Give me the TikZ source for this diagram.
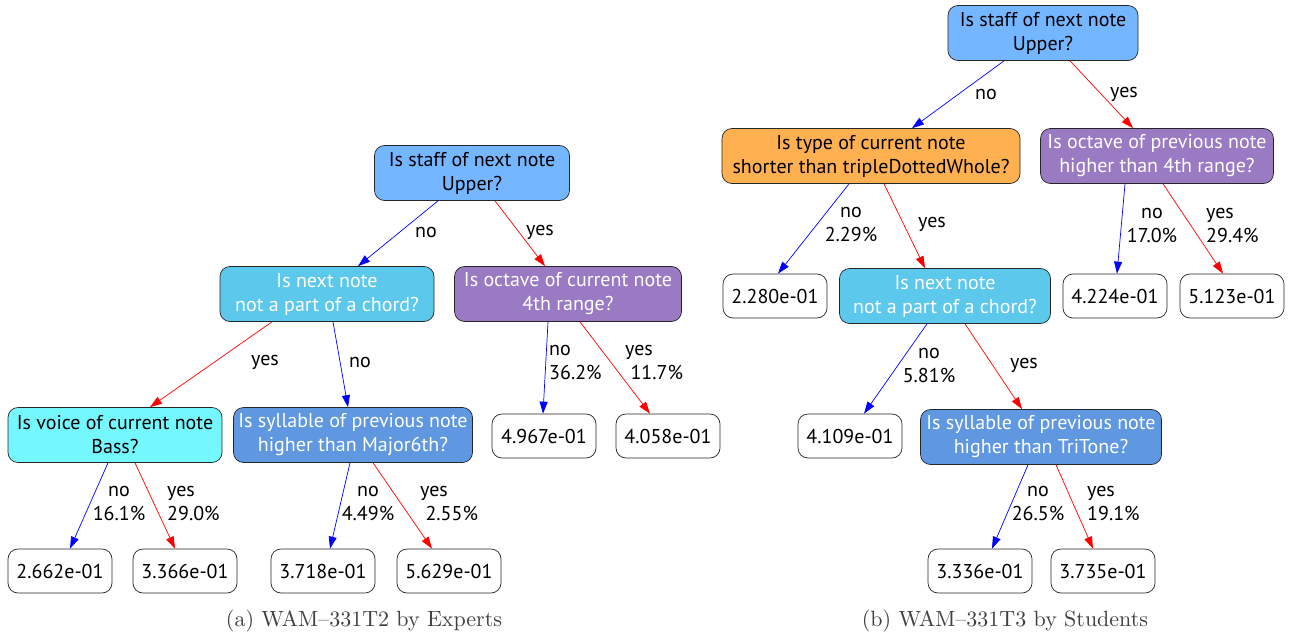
\documentclass[tikz,border=0pt]{standalone}
\usepackage{fontspec}
\newfontfamily\nodefont{PT Sans}
\newfontfamily\capfont[Extension=.otf, Ligatures=TeX]{lmroman10-regular}
\usetikzlibrary{arrows.meta}

\definecolor{staffblue}{HTML}{74B6FF}
\definecolor{chordcyan}{HTML}{5BC8EC}
\definecolor{octavepurple}{HTML}{9A7AC2}
\definecolor{voicecyan}{HTML}{74F8FD}
\definecolor{syllableblue}{HTML}{5F98E0}
\definecolor{typeorange}{HTML}{FFB050}

\begin{document}
\begin{tikzpicture}[
    x=1pt, y=-1pt,
    % Define question node style
    question/.style={
        draw=black!85, % Dark border
        rounded corners=10pt, % Rounded box
        minimum height=55pt, % Two text lines
        inner xsep=4pt,
        line width=0.7pt,
        align=center, % Center alignment
        font=\nodefont\fontsize{20}{24}\selectfont
      },
    % Define leaf node style
    leaf/.style={
        draw=black!85,
        fill=white,
        rounded corners=10pt,
        minimum width=104pt,
        minimum height=44pt,
        inner xsep=4pt,
        line width=0.7pt,
        font=\nodefont\fontsize{20}{24}\selectfont
      },
    % Define label style
    edgelabel/.style={
        inner sep=0pt,
        align=center,
        font=\nodefont\fontsize{20}{24}\selectfont
      },
    % Define arrow styles
    noedge/.style={draw=blue, line width=0.7pt, -{Triangle[length=12pt,width=8pt]}},
    yesedge/.style={draw=red, line width=0.7pt, -{Triangle[length=12pt,width=8pt]}}
  ]

  \fill[white] (0,0) rectangle (1292,637);
  \useasboundingbox (0,0) rectangle (1292,637);

  % (a) tree by experts
  \node[question, fill=staffblue, minimum width=195pt] (aStaff) at (472,173) {Is staff of next note\\Upper?};
  \node[question, fill=chordcyan, text=white, minimum width=214pt] (aChord) at (327,294) {Is next note\\not a part of a chord?};
  \node[question, fill=octavepurple, text=white, minimum width=227pt] (aOctave) at (568,294) {Is octave of current note\\4th range?};
  \node[question, fill=voicecyan, minimum width=214pt] (aVoice) at (115,435) {Is voice of current note\\Bass?};
  \node[question, fill=syllableblue, text=white, minimum width=239pt] (aSyllable) at (353,435) {Is syllable of previous note\\higher than Major6th?};

  \node[leaf] (aLeafA) at (544,436) {4.967e-01};
  \node[leaf] (aLeafB) at (668,436) {4.058e-01};
  \node[leaf] (aLeafC) at (60,571) {2.662e-01};
  \node[leaf] (aLeafD) at (185,571) {3.366e-01};
  \node[leaf] (aLeafE) at (323,571) {3.718e-01};
  \node[leaf] (aLeafF) at (449,571) {5.629e-01};

  % Draw arrows
  \draw[noedge] ([xshift=-34pt]aStaff.south) -- ([xshift=31pt]aChord.north);
  \draw[yesedge] ([xshift=23pt]aStaff.south) -- ([xshift=-23pt]aOctave.north);
  \draw[yesedge] ([xshift=-55pt]aChord.south) -- ([xshift=35pt]aVoice.north);
  \draw[noedge] ([xshift=6pt]aChord.south) -- ([xshift=-5pt]aSyllable.north);
  \draw[noedge] ([xshift=-20pt]aOctave.south) -- ([xshift=-1pt]aLeafA.north);
  \draw[yesedge] ([xshift=12pt]aOctave.south) -- ([xshift=-18pt]aLeafB.north);
  \draw[noedge] ([xshift=-7pt]aVoice.south) -- ([xshift=10pt]aLeafC.north);
  \draw[yesedge] ([xshift=20pt]aVoice.south) -- ([xshift=-10pt]aLeafD.north);
  \draw[noedge] ([xshift=-3pt]aSyllable.south) -- ([xshift=7pt]aLeafE.north);
  \draw[yesedge] ([xshift=20pt]aSyllable.south) -- ([xshift=-17pt]aLeafF.north);

  % Arrow labels
  \node[edgelabel] (aNoStaff) at (426,232) {no};
  \node[edgelabel] (aYesStaff) at (540,232) {yes};
  \node[edgelabel] (aYesChord) at (265,362) {yes};
  \node[edgelabel] (aNoChord) at (360,362) {no};
  \node[edgelabel, align=left, anchor=west] (aNoOctave) at (549,362) {no\\36.2\%};
  \node[edgelabel, align=left, anchor=west] (aYesOctave) at (625,362) {yes\\\ 11.7\%};
  \node[edgelabel] (aNoVoice) at (119,503) {no\\16.1\%};
  \node[edgelabel, align=left, anchor=west] (aYesVoice) at (167,503) {yes\\29.0\%};
  \node[edgelabel] (aNoSyllable) at (368,503) {no\\4.49\%};
  \node[edgelabel, align=left, anchor=west] (aYesSyllable) at (420,503) {yes\\\ 2.55\%};

  % (b) tree by students
  \node[question, fill=staffblue, minimum width=190pt] (bStaff) at (1043,33) {Is staff of next note\\Upper?};
  \node[question, fill=typeorange, minimum width=298pt] (bType) at (871,156) {Is type of current note\\shorter than tripleDottedWhole?};
  \node[question, fill=octavepurple, text=white, minimum width=233pt] (bOctave) at (1157,156) {Is octave of previous note\\higher than 4th range?};
  \node[question, fill=chordcyan, text=white, minimum width=211pt] (bChord) at (945,296) {Is next note\\not a part of a chord?};
  \node[question, fill=syllableblue, text=white, minimum width=241pt] (bSyllable) at (1041,437) {Is syllable of previous note\\higher than TriTone?};

  \node[leaf] (bLeafA) at (775,296) {2.280e-01};
  \node[leaf] (bLeafB) at (1115,296) {4.224e-01};
  \node[leaf] (bLeafC) at (1232,296) {5.123e-01};
  \node[leaf] (bLeafD) at (850,436) {4.109e-01};
  \node[leaf] (bLeafE) at (980,571) {3.336e-01};
  \node[leaf] (bLeafF) at (1103,571) {3.735e-01};

  % Draw arrows
  \draw[noedge] ([xshift=-39pt]bStaff.south) -- ([xshift=41pt]bType.north);
  \draw[yesedge] ([xshift=27pt]bStaff.south) -- ([xshift=-24pt]bOctave.north);
  \draw[noedge] ([xshift=-22pt]bType.south) -- ([xshift=3pt]bLeafA.north);
  \draw[yesedge] ([xshift=13pt]bType.south) -- ([xshift=-20pt]bChord.north);
  \draw[noedge] ([xshift=-32pt]bOctave.south) -- ([xshift=2pt]bLeafB.north);
  \draw[yesedge] ([xshift=6pt]bOctave.south) -- ([xshift=-9pt]bLeafC.north);
  \draw[noedge] ([xshift=-18pt]bChord.south) -- ([xshift=14pt]bLeafD.north);
  \draw[yesedge] ([xshift=20pt]bChord.south) -- ([xshift=-19pt]bSyllable.north);
  \draw[noedge] ([xshift=-13pt]bSyllable.south) -- ([xshift=12pt]bLeafE.north);
  \draw[yesedge] ([xshift=15pt]bSyllable.south) -- ([xshift=-10pt]bLeafF.north);

  % Arrow labels
  \node[edgelabel] (bNoStaff) at (986,94) {no};
  \node[edgelabel] (bYesStaff) at (1124,94) {yes};
  \node[edgelabel] (bNoType) at (851,224) {no\\2.29\%};
  \node[edgelabel] (bYesType) at (932,224) {yes};
  \node[edgelabel] (bNoOctave) at (1152,225) {no\\17.0\%};
  \node[edgelabel, align=left, anchor=west] (bYesOctave) at (1206,225) {yes\\29.4\%};
  \node[edgelabel] (bNoChord) at (929,365) {no\\5.81\%};
  \node[edgelabel] (bYesChord) at (1024,365) {yes};
  \node[edgelabel] (bNoSyllable) at (1038,503) {no\\26.5\%};
  \node[edgelabel, align=left, anchor=west] (bYesSyllable) at (1087,503) {yes\\19.1\%};

  % Captions
  \node[font=\capfont\fontsize{22}{24}\selectfont, text=black!75] (capA) at (364,621) {(a) WAM--331T2 by Experts};
  \node[font=\capfont\fontsize{22}{24}\selectfont, text=black!75] (capB) at (1005,621) {(b) WAM--331T3 by Students};

\end{tikzpicture}
\end{document}
